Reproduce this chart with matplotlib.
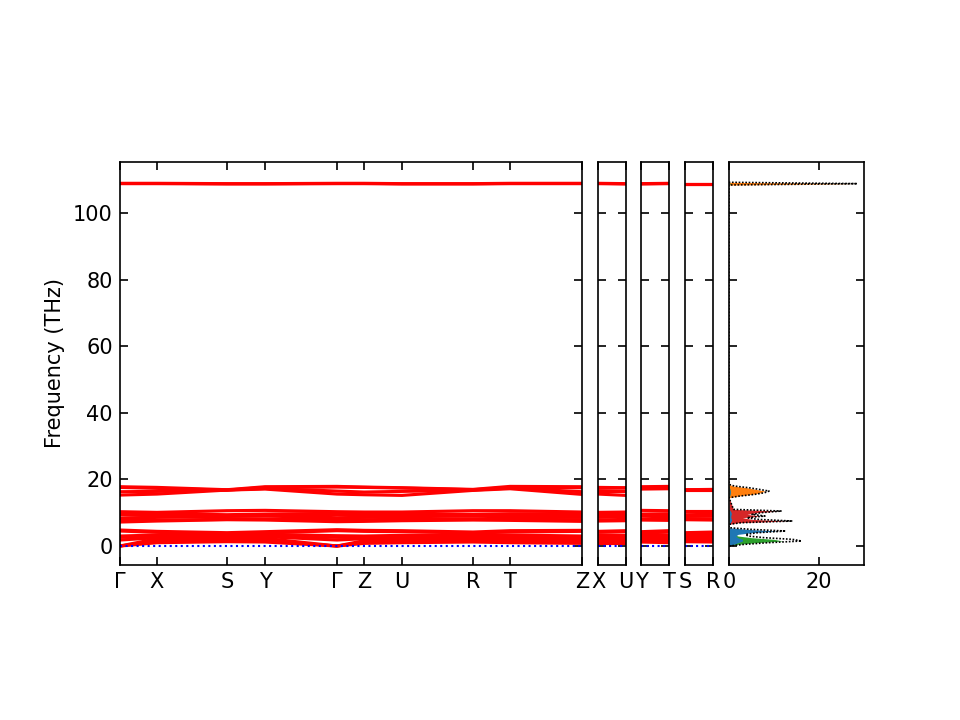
import matplotlib
matplotlib.use("Agg")
import matplotlib.pyplot as plt

# path distances of the high-symmetry points on the main panel
k_main = [0.0, 0.37, 1.07, 1.45, 2.17, 2.44, 2.82, 3.53, 3.90, 4.62]
labels_main = ["Γ", "X", "S", "Y", "Γ", "Z", "U", "R", "T", "Z"]

# frequencies (THz) of each band at the points above
bands_low = [
    [0.0, 1.0, 1.3, 1.2, 0.0, 0.8, 1.0, 1.2, 1.0, 0.8],
    [0.0, 1.6, 1.8, 1.7, 0.0, 1.1, 1.4, 1.6, 1.5, 1.1],
    [0.0, 2.2, 2.4, 2.3, 0.0, 1.6, 1.9, 2.1, 2.0, 1.6],
    [1.8, 2.5, 2.9, 2.8, 1.8, 2.2, 2.5, 2.7, 2.6, 2.2],
    [2.6, 2.8, 3.1, 3.2, 2.6, 2.6, 2.9, 3.0, 2.9, 2.6],
    [3.0, 3.3, 3.4, 3.5, 3.1, 3.0, 3.2, 3.4, 3.3, 3.0],
    [4.5, 4.1, 3.6, 3.9, 4.6, 4.4, 4.3, 3.9, 4.2, 4.4],
    [4.8, 4.4, 4.0, 4.3, 4.9, 4.7, 4.6, 4.2, 4.6, 4.7],
]
bands_mid = [
    [7.2, 7.5, 7.9, 7.8, 7.3, 7.4, 7.6, 7.8, 7.7, 7.4],
    [7.8, 7.8, 8.0, 8.1, 7.9, 7.9, 8.0, 8.1, 8.0, 7.9],
    [8.3, 8.6, 8.9, 9.0, 8.5, 8.6, 8.8, 9.0, 8.7, 8.6],
    [9.3, 9.1, 8.9, 9.1, 9.4, 9.3, 9.2, 9.0, 9.2, 9.3],
    [9.8, 9.7, 9.4, 9.6, 9.8, 9.7, 9.6, 9.5, 9.7, 9.7],
    [10.3, 10.1, 10.6, 10.7, 10.3, 10.2, 10.2, 10.6, 10.6, 10.2],
]
bands_high = [
    [15.3, 15.6, 16.8, 17.1, 15.6, 15.4, 15.2, 16.7, 17.2, 15.5],
    [16.3, 16.4, 16.8, 17.3, 16.5, 16.2, 16.4, 16.8, 17.4, 16.3],
    [17.6, 17.3, 16.8, 17.6, 17.7, 17.6, 17.4, 16.9, 17.6, 17.5],
    [17.8, 17.6, 16.9, 17.8, 17.9, 17.7, 17.5, 17.0, 17.9, 17.8],
]
bands_top = [
    [108.8, 108.8, 108.7, 108.7, 108.8, 108.8, 108.7, 108.7, 108.8, 108.8],
    [108.9, 108.9, 108.8, 108.8, 108.9, 108.9, 108.8, 108.8, 108.9, 108.9],
]

# the three short side paths (start, end index on the main path)
side_paths = [(1, 6, "X", "U"), (3, 8, "Y", "T"), (2, 7, "S", "R")]

# projected DOS
dos_freq = [0.0, 0.5, 1.0, 1.5, 2.0, 2.5, 3.0, 3.5, 4.0, 4.5, 5.0, 5.5,
            6.5, 7.0, 7.5, 8.0, 8.5, 9.0, 9.5, 10.0, 10.5, 11.0,
            14.5, 15.0, 15.5, 16.0, 16.5, 17.0, 17.5, 18.0, 18.5,
            108.4, 108.8, 109.2]
pdos_blue = [0, 1, 2, 3, 3, 2, 1.5, 2, 5, 11, 4, 0,
             0, 0.3, 0.5, 0.6, 0.4, 0.4, 0.5, 0.5, 0.3, 0,
             0, 0.1, 0.2, 0.3, 0.3, 0.2, 0.1, 0, 0,
             0, 0.2, 0]
pdos_orange = [0, 0.1, 0.2, 0.3, 0.3, 0.2, 0.2, 0.2, 0.3, 0.3, 0.2, 0,
               0, 0.2, 0.3, 0.3, 0.3, 0.3, 0.3, 0.3, 0.2, 0,
               0, 2, 5, 7, 8, 6, 4, 1, 0,
               0, 27.8, 0]
pdos_green = [0, 2, 6, 12, 10, 5, 2, 1, 0.5, 0.5, 0.2, 0,
              0, 0.2, 0.3, 0.4, 0.3, 0.3, 0.3, 0.3, 0.2, 0,
              0, 0.1, 0.2, 0.2, 0.2, 0.2, 0.1, 0.1, 0,
              0, 0.3, 0]
pdos_red = [0, 0.3, 0.5, 0.8, 0.8, 0.6, 0.5, 0.5, 0.6, 0.8, 0.4, 0,
            0, 2, 13, 5, 3, 7, 4, 6, 11, 1,
            0, 0.2, 0.3, 0.4, 0.4, 0.3, 0.2, 0.1, 0,
            0, 0.2, 0]

all_bands = bands_low + bands_mid + bands_high + bands_top
ylim = (-5.7, 115.3)

fig = plt.figure(figsize=(6.4, 4.8), dpi=150)
bottom, height = 155 / 720, 403 / 720


def style(ax):
    ax.tick_params(direction="in", top=True, right=True, length=4)
    ax.set_ylim(*ylim)
    ax.set_yticks([0, 20, 40, 60, 80, 100])


# main band panel
ax = fig.add_axes([120 / 960, bottom, 462 / 960, height])
for b in all_bands:
    ax.plot(k_main, b, color="r", lw=1.5)
ax.axhline(0, color="b", ls=":", lw=1)
ax.set_xlim(k_main[0], k_main[-1])
style(ax)
ax.set_xticks(k_main)
ax.set_xticklabels(labels_main)
ax.set_ylabel("Frequency (THz)")

# short side panels
lefts = [598, 641, 685]
for left, (i0, i1, l0, l1) in zip(lefts, side_paths):
    a = fig.add_axes([left / 960, bottom, 28 / 960, height])
    for b in all_bands:
        a.plot([0, 1], [b[i0], b[i1]], color="r", lw=1.5)
    a.axhline(0, color="b", ls=":", lw=1)
    a.set_xlim(0, 1)
    style(a)
    a.set_xticks([0, 1])
    a.set_xticklabels([l0, l1])
    a.set_yticklabels([])

# DOS panel
ad = fig.add_axes([729 / 960, bottom, 135 / 960, height])
ad.fill_betweenx(dos_freq, 0, pdos_red, color="tab:red", lw=0)
ad.fill_betweenx(dos_freq, 0, pdos_orange, color="tab:orange", lw=0)
ad.fill_betweenx(dos_freq, 0, pdos_green, color="tab:green", lw=0)
ad.fill_betweenx(dos_freq, 0, pdos_blue, color="tab:blue", lw=0)
total = [a + b + c + d for a, b, c, d in zip(pdos_blue, pdos_orange, pdos_green, pdos_red)]
ad.plot(total, dos_freq, color="k", ls=(0, (1, 1)), lw=0.8)
ad.set_xlim(0, 30)
style(ad)
ad.set_xticks([0, 20])
ad.set_yticklabels([])

fig.savefig("out.png", dpi=150)
